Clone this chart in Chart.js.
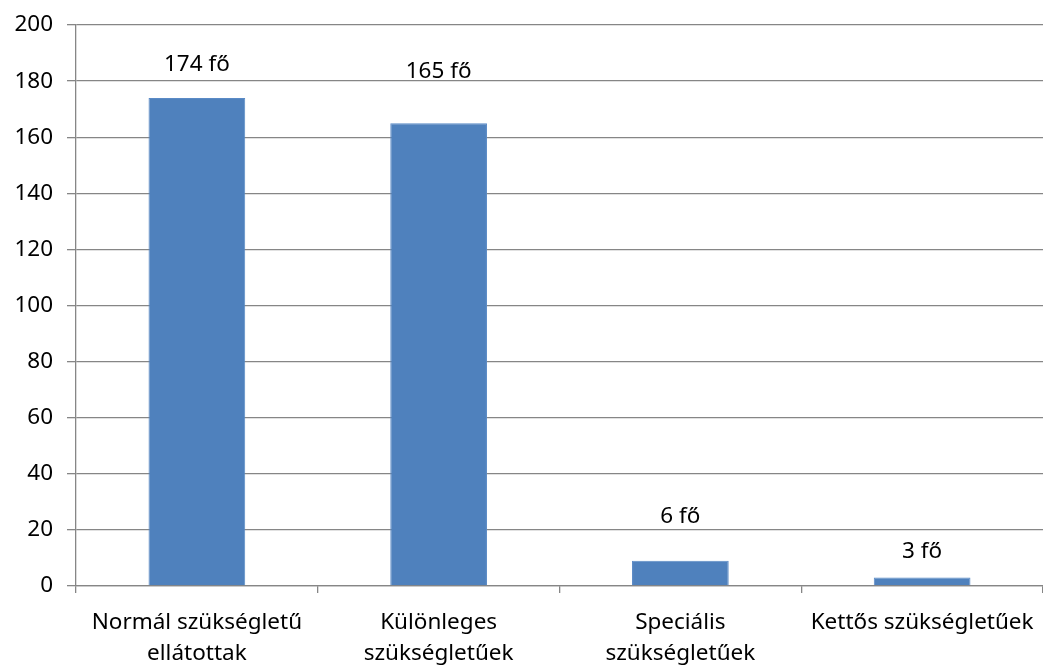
<!DOCTYPE html>
<html>
<head>
<meta charset="utf-8">
<script src="https://cdn.jsdelivr.net/npm/chart.js@4"></script>
<style>
    html, body { margin: 0; padding: 0; background: #ffffff; }
    #chart { display: block; }
</style>
</head>
<body>
<canvas id="chart" width="1043" height="666"></canvas>
<script>
//The chart data
const categories = [
    ['Normál szükségletű', 'ellátottak'],
    ['Különleges', 'szükségletűek'],
    ['Speciális', 'szükségletűek'],
    'Kettős szükségletűek'
];
const values = [174, 165, 9, 3];
const valueLabels = ['174 fő', '165 fő', '6 fő', '3 fő'];
const yTicks = [0, 20, 40, 60, 80, 100, 120, 140, 160, 180, 200];

//How far (px) each value label sits above its bar top, as placed in the original.
const labelLift = [33, 52, 44, 26];

const FONT = '"Noto Sans", sans-serif';
const FONT_SIZE = 22.5;
const GRID = '#868686';

/**
 * Draws the "n fő" labels above the bars.
 */
const valueLabelPlugin = {
    id: 'valueLabels',
    afterDatasetsDraw: function (chart) {
        const ctx = chart.ctx;
        const meta = chart.getDatasetMeta(0);
        ctx.save();
        ctx.font = FONT_SIZE + 'px ' + FONT;
        ctx.fillStyle = '#000000';
        ctx.textAlign = 'center';
        ctx.textBaseline = 'middle';
        meta.data.forEach(function (bar, i) {
            ctx.fillText(valueLabels[i], bar.x, bar.y - labelLift[i]);
        });
        ctx.restore();
    }
};

const config = {
    type: 'bar',
    data: {
        labels: categories,
        datasets: [{
            data: values,
            backgroundColor: '#4f81bd',
            borderColor: '#5a8ac6',
            borderWidth: 1,
            categoryPercentage: 1,
            barPercentage: 0.4
        }]
    },
    options: {
        responsive: false,
        animation: false,
        events: [],
        layout: { padding: { top: 25, right: 0, left: 0, bottom: 0 } },
        plugins: {
            legend: { display: false },
            tooltip: { enabled: false }
        },
        scales: {
            x: {
                offset: true,
                grid: {
                    offset: true,
                    drawOnChartArea: false,
                    drawTicks: true,
                    tickLength: 7,
                    color: GRID,
                    lineWidth: 1.3
                },
                border: { color: GRID, width: 1.3 },
                ticks: {
                    color: '#000000',
                    font: { family: FONT, size: FONT_SIZE, lineHeight: 1.37 },
                    maxRotation: 0,
                    autoSkip: false,
                    padding: 14
                },
                //The plot runs right up to the canvas edge, as in the original.
                afterFit: function (scale) {
                    scale.height = 80;
                    scale.paddingLeft = 0;
                    scale.paddingRight = 0;
                }
            },
            y: {
                min: 0,
                max: 200,
                afterBuildTicks: function (scale) {
                    scale.ticks = yTicks.map(function (v) { return { value: v }; });
                },
                grid: {
                    color: GRID,
                    lineWidth: 1.3,
                    drawTicks: true,
                    tickLength: 9
                },
                border: { color: GRID, width: 1.3 },
                ticks: {
                    color: '#000000',
                    font: { family: FONT, size: FONT_SIZE },
                    padding: 14
                },
                afterFit: function (scale) {
                    scale.width = 76;
                    scale.paddingTop = 0;
                    scale.paddingBottom = 0;
                }
            }
        }
    },
    plugins: [valueLabelPlugin]
};

window.onload = function () {
    window.myBar = new Chart(document.getElementById('chart').getContext('2d'), config);
};
</script>
</body>
</html>
